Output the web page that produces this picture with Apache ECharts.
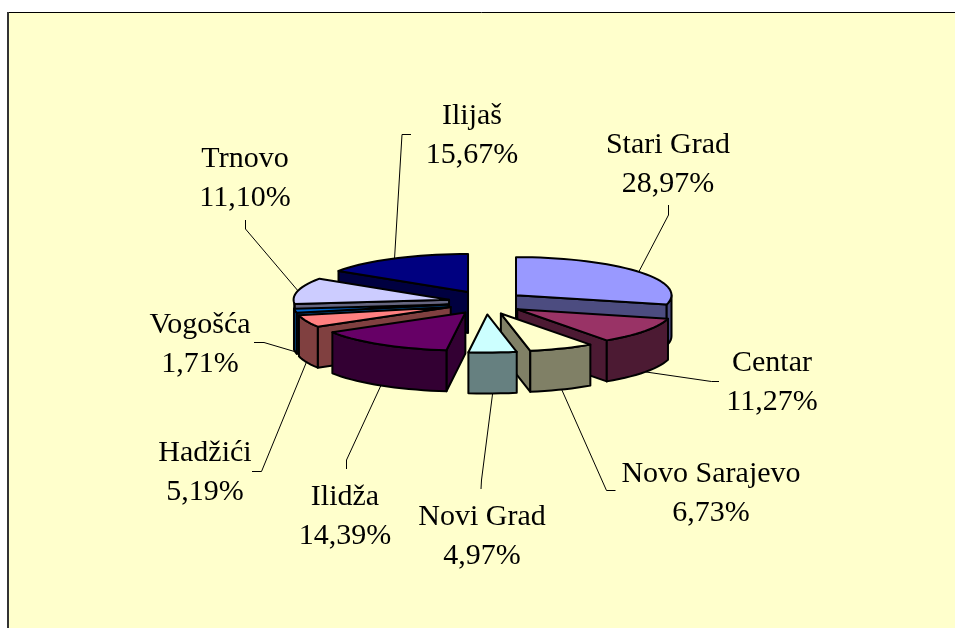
<!DOCTYPE html>
<html>
<head>
<meta charset="utf-8">
<style>html,body{margin:0;padding:0;background:#fff}#main{width:955px;height:628px}</style>
<script src="https://cdn.jsdelivr.net/npm/echarts@6/dist/echarts.min.js"></script>
</head>
<body>
<div id="main"></div>
<script>
const categories = ['Stari Grad','Centar','Novo Sarajevo','Novi Grad','Ilidža','Hadžići','Vogošća','Trnovo','Ilijaš'];
const shares = [28.97,11.27,6.73,4.97,14.39,5.19,1.71,11.10,15.67];
const topColors = ['#9999FF','#993366','#FFFFCC','#CCFFFF','#660066','#FF8080','#0066CC','#CCCCFF','#000080'];
const wallColors = ['#4C4C80','#4C1A33','#808066','#668080','#330033','#804040','#004C8C','#666680','#000040'];
// label centres and the free end of each leader line, on the page
const labelCentres = [[668,164.5],[772,383],[711,493.5],[482,536.5],[345,517],[205,473],[200,345],[245,179],[472,136]];
const leaderStarts = [
  [[668.5,205],[668.5,215]],
  [[719,381.5],[711.5,381.5]],
  [[615.5,490.5],[606.5,490.5]],
  [[481,489],[481.5,480]],
  [[346.5,469],[346.5,460]],
  [[252,471.5],[261.5,471.5]],
  [[254,342.5],[264,342.5]],
  [[245.5,220],[245.5,229]],
  [[411,134.5],[402,134.5]]
];

const pie = {cx:486, cy:302.5, a:155.5, b:38, ex:38, ey:12, h:41, rimEnd:264};
const total = shares.reduce((s,v)=>s+v,0);
const rad = d => d*Math.PI/180;
let acc = 0;
const slices = shares.map((v,i)=>{
  const start = acc/total*360; acc += v; const end = acc/total*360;
  return {i,start,end,mid:(start+end)/2};
});
const order = slices.slice().sort((p,q)=>(-Math.cos(rad(p.mid)))-(-Math.cos(rad(q.mid))));

function renderSlice(params, api){
  const s = slices[api.value(0)];
  const i = s.i;
  const ax = pie.cx + pie.ex*Math.sin(rad(s.mid));
  const ay = pie.cy - pie.ey*Math.cos(rad(s.mid));
  const pt = (d,dy=0)=>[ax+pie.a*Math.sin(rad(d)), ay-pie.b*Math.cos(rad(d))+dy];
  const line = {stroke:'#000',lineWidth:2,lineJoin:'round'};
  const poly = (points,fill)=>({type:'polygon',shape:{points},style:Object.assign({fill},line),silent:true});
  const children = [];
  const arc = (from,to,dy=0)=>{const r=[];const n=Math.max(2,Math.ceil((to-from)/3));for(let k=0;k<=n;k++)r.push(pt(from+(to-from)*k/n,dy));return r;};
  const wall = wallColors[i];
  // radial walls that face the viewer
  if(Math.sin(rad(s.start))<-1e-6){
    const p=pt(s.start);
    children.push(poly([[ax,ay],p,[p[0],p[1]+pie.h],[ax,ay+pie.h]],wall));
  }
  if(Math.sin(rad(s.end))>1e-6){
    const p=pt(s.end);
    children.push(poly([[ax,ay],p,[p[0],p[1]+pie.h],[ax,ay+pie.h]],wall));
  }
  // outer rim on the front half
  const f=Math.max(s.start,90), t=Math.min(s.end,pie.rimEnd);
  if(t>f){
    children.push(poly(arc(f,t).concat(arc(f,t,pie.h).reverse()),wall));
  }
  // top face
  children.push(poly([[ax,ay]].concat(arc(s.start,s.end)),topColors[i]));
  return {type:'group',children};
}

function renderLabel(params, api){
  const s = slices[api.value(0)];
  const i = s.i;
  const ax = pie.cx + pie.ex*Math.sin(rad(s.mid));
  const ay = pie.cy - pie.ey*Math.cos(rad(s.mid));
  const front = Math.cos(rad(s.mid))<0 ? pie.h : 0;
  const anchor = [ax+pie.a*Math.sin(rad(s.mid)), ay-pie.b*Math.cos(rad(s.mid))+front];
  const c = labelCentres[i];
  return {type:'group',children:[
    {type:'polyline',shape:{points:leaderStarts[i].concat([anchor])},style:{fill:'none',stroke:'#000',lineWidth:1},silent:true},
    {type:'text',x:c[0],y:c[1],style:{
      text:categories[i]+'\n'+api.value(1).toFixed(2).replace('.',',')+'%',
      x:0,y:0,align:'center',verticalAlign:'middle',textAlign:'center',textVerticalAlign:'middle',
      font:'30px "Liberation Serif"',fontFamily:'Liberation Serif',fontSize:30,lineHeight:39,fill:'#000'
    }}
  ]};
}

const chart = echarts.init(document.getElementById('main'),null,{width:955,height:628});
chart.setOption({
  animation:false,
  backgroundColor:'#fff',
  graphic:[
    {type:'rect',z:-1,shape:{x:8,y:13,width:947,height:615},style:{fill:'#FFFFCC'},silent:true},
    {type:'line',z:-1,shape:{x1:8,y1:12.5,x2:955,y2:12.5},style:{stroke:'#000',lineWidth:1},silent:true},
    {type:'line',z:-1,shape:{x1:8,y1:12,x2:8,y2:628},style:{stroke:'#333',lineWidth:2},silent:true}
  ],
  series:[
    {type:'custom',coordinateSystem:'none',renderItem:renderLabel,z:2,clip:false,silent:true,
     data:slices.map(s=>[s.i,shares[s.i]])},
    {type:'custom',coordinateSystem:'none',renderItem:renderSlice,z:3,clip:false,silent:true,
     data:order.map(s=>[s.i,shares[s.i]])}
  ]
});
</script>
</body>
</html>
